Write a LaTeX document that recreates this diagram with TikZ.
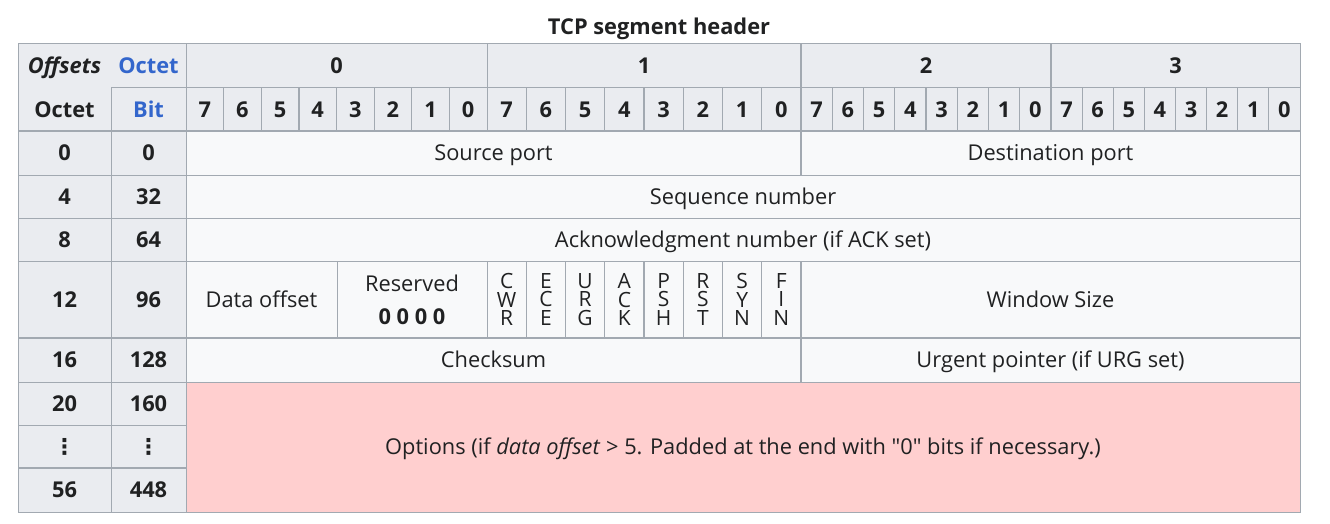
\documentclass[tikz,border=0pt]{standalone}
\usepackage{fontspec}
\setmainfont{Open Sans}
\newfontfamily\dotsfont{DejaVu Sans}
\usepackage{tikz}
\definecolor{hdrgray}{HTML}{EAECF0}
\definecolor{bodygray}{HTML}{F8F9FA}
\definecolor{gridgray}{HTML}{A2A9B1}
\definecolor{optpink}{HTML}{FFCFCF}
\definecolor{linkblue}{HTML}{3366CC}
\definecolor{ink}{HTML}{202122}
\newcommand{\cellfont}{\fontsize{21.8}{26}\selectfont}

\begin{document}
\begin{tikzpicture}[x=1pt, y=-1pt,
  hdr/.style={draw=gridgray, line width=1pt, fill=hdrgray, text=ink, font=\cellfont\bfseries, inner sep=0pt, outer sep=0pt, text height=21pt, text depth=5.4pt},
  hdrfill/.style={hdr, draw=none},
  field/.style={hdr, fill=bodygray, font=\cellfont},
  flag/.style={field, align=center, font=\fontsize{21}{18.5}\selectfont, text height=, text depth=},
  size/.style 2 args={minimum width=#1pt, minimum height=#2pt},
  grid/.style={draw=gridgray, line width=1pt},
  nibble/.style={draw=gridgray, line width=1.8pt}
]
  \useasboundingbox[fill=white] (0,0) rectangle (1330,524);

  \node[font=\cellfont\bfseries, text=ink] (title) at (659,29) {TCP segment header};

  % Offsets corner
  \node[hdrfill, size={93}{44}] (offs) at (64.5,66) {\itshape Offsets};
  \node[hdrfill, size={75}{44}, text=linkblue] (octh) at (148.5,66) {Octet};
  \node[hdrfill, size={93}{43}] (octl) at (64.5,109.5) {Octet};
  \node[hdr, size={75}{43}, text=linkblue] (bith) at (148.5,109.5) {Bit};
  \draw[grid] (offs.north west) rectangle (bith.south east);

  \node[hdr, size={301}{44}] (oct0) at (336.5,66) {0};
  \node[hdr, size={314}{44}] (oct1) at (644,66) {1};
  \node[hdr, size={250}{44}] (oct2) at (926,66) {2};
  \node[hdr, size={249}{44}] (oct3) at (1175.5,66) {3};

  \foreach \o/\l/\w in {0/186/37.625, 1/487/39.25, 2/801/31.25, 3/1051/31.125}
    \foreach \b in {0,...,7}{
      \pgfmathtruncatemacro{\n}{7-\b}
      \node[hdr, size={\w}{43}] (bit\o-\b) at ({\l+(\b+0.5)*\w},109.5) {\n};
    }

  \foreach \y/\h/\oc/\bt [count=\r] in {153/44/0/0, 196.5/43/4/32, 239.5/43/8/64, 299.5/77/12/96, 360/44/16/128, 403.5/43/20/160, 446.5/43/{\dotsfont ⋮}/{\dotsfont ⋮}, 490/44/56/448}{
    \node[hdr, size={93}{\h}] (offoct\r) at (64.5,\y) {\oc};
    \node[hdr, size={75}{\h}] (offbit\r) at (148.5,\y) {\bt};
  }

  % Header fields
  \node[field, size={615}{44}] (src) at (493.5,153) {Source port};
  \node[field, size={499}{44}] (dst) at (1050.5,153) {Destination port};
  \node[field, size={1114}{43}] (seq) at (743,196.5) {Sequence number};
  \node[field, size={1114}{43}] (ack) at (743,239.5) {Acknowledgment number (if ACK set)};
  \node[field, size={151}{77}] (doff) at (261.5,299.5) {Data offset};
  \node[field, size={150}{77}, align=center, font=\fontsize{21.8}{33}\selectfont, text height=, text depth=] (rsv) at (412,299.5) {Reserved\\\textbf{0 0 0 0}};
  \foreach \f [count=\i from 0] in {{C\\W\\R},{E\\C\\E},{U\\R\\G},{A\\C\\K},{P\\S\\H},{R\\S\\T},{S\\Y\\N},{F\\I\\N}}
    \node[flag, size={39.25}{77}] (flag\i) at ({487+(\i+0.5)*39.25},299.5) {\f};
  \node[field, size={499}{77}] (win) at (1050.5,299.5) {Window Size};
  \node[field, size={615}{44}] (chk) at (493.5,360) {Checksum};
  \node[field, size={499}{44}] (urg) at (1050.5,360) {Urgent pointer (if URG set)};
  \node[field, fill=optpink, size={1114}{130}] (opt) at (743,447) {Options (if \textit{data offset} > 5. Padded at the end with \textquotedbl 0\textquotedbl{} bits if necessary.)};

  % heavier rules
  \draw[nibble] (offoct1.north west) -- (dst.north east);
  \draw[nibble] (offoct5.north west) -- (urg.north east);
  \draw[nibble] (offoct8.north west) -- (offbit8.north east);
  \draw[nibble] (oct2.north west) -- (dst.south west);
  \draw[nibble] (win.north west) -- (urg.south west);
  \draw[nibble] (oct3.north west) -- (bit3-0.south west);
  \draw[nibble] (bit0-3.north west) -- (bit0-3.south west);
  \draw[nibble] (bit1-4.north west) -- (bit1-4.south west);
  \draw[nibble] (bit2-4.north west) -- (bit2-4.south west);
  \draw[nibble] (flag4.north west) -- (flag4.south west);
\end{tikzpicture}
\end{document}
